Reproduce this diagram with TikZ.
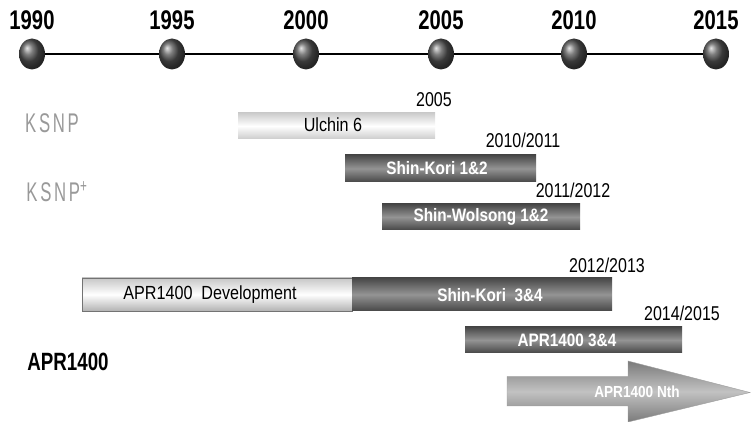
\documentclass[tikz,border=0pt]{standalone}
\usepackage{fontspec}
\setmainfont{Liberation Sans}
\newfontfamily\yearfont[FakeStretch=0.75]{Liberation Sans}
\newfontfamily\labfont[FakeStretch=0.8]{Liberation Sans}
\newfontfamily\barfont[FakeStretch=0.85]{Liberation Sans}
\newfontfamily\grpfont[FakeStretch=0.62,LetterSpace=10]{Liberation Sans}
\usetikzlibrary{shapes.geometric}
\tikzset{
  ballnode/.style={ellipse, minimum width=26pt, minimum height=31pt, inner sep=0pt, shading=ball, ball color=black!68},
  yearlab/.style={inner sep=0pt, font=\yearfont\bfseries\fontsize{27}{27}\selectfont},
  datelab/.style={inner sep=0pt, font=\labfont\fontsize{20}{20}\selectfont},
  grouplab/.style={inner sep=0pt, text=black!40, font=\grpfont\fontsize{27}{27}\selectfont},
  darkbar/.style={rectangle, inner sep=0pt, top color=black!72, bottom color=black!72, middle color=black!42},
  lightbar/.style={rectangle, inner sep=0pt, top color=black!20, bottom color=black!20, middle color=white},
  devbar/.style={rectangle, inner sep=0pt, draw=black!55, line width=0.6pt, top color=black!22, bottom color=black!30, middle color=white},
  whitetxt/.style={inner sep=0pt, text=white, font=\barfont\bfseries\fontsize{18}{18}\selectfont},
  blacktxt/.style={inner sep=0pt, text=black, font=\barfont\fontsize{19}{19}\selectfont},
  tline/.style={line width=2pt, black}
}
\begin{document}
\begin{tikzpicture}[x=1pt,y=-1pt]
\useasboundingbox (0,0) rectangle (756,422);

% timeline
\draw[tline] (32,54) -- (716,54);
\foreach \yr/\xx in {1990/32,1995/172,2000/306,2005/441,2010/574,2015/716}{
  \node[ballnode] (b\yr) at (\xx,54) {};
  \node[yearlab] (t\yr) at (\xx,20) {\yr};
}

% group labels
\node[grouplab] (ksnp) at (52,123) {KSNP};
\node[grouplab] (ksnpp) at (57,192) {KSNP\textsuperscript{+}};
\node[inner sep=0pt, font=\yearfont\bfseries\fontsize{25}{25}\selectfont] (apr) at (68,362) {APR1400};

% bars
\node[lightbar, minimum width=197pt, minimum height=26pt] (ulchin) at (336.5,126) {};
\node[blacktxt] (ulchintxt) at (333,125) {Ulchin 6};
\node[datelab] (d2005) at (434,100) {2005};

\node[darkbar, minimum width=191pt, minimum height=27pt] (sk12) at (440.5,168.5) {};
\node[whitetxt] (sk12txt) at (437,168) {Shin-Kori 1\&2};
\node[datelab] (d2010) at (523,140) {2010/2011};

\node[darkbar, minimum width=198pt, minimum height=26pt] (sw12) at (481,217) {};
\node[whitetxt] (sw12txt) at (481,217) {Shin-Wolsong 1\&2};
\node[datelab] (d2011) at (573,190) {2011/2012};

\node[devbar, minimum width=270pt, minimum height=33pt] (dev) at (217,294.5) {};
\node[blacktxt] (devtxt) at (210,295) {APR1400\ \ Development};
\node[darkbar, minimum width=260pt, minimum height=33pt] (sk34) at (482,294.5) {};
\node[whitetxt] (sk34txt) at (490,295) {Shin-Kori\ \ 3\&4};
\node[datelab] (d2012) at (607,265) {2012/2013};

\node[darkbar, minimum width=217pt, minimum height=26pt] (apr34) at (573.5,340) {};
\node[whitetxt] (apr34txt) at (567,340) {APR1400 3\&4};
\node[datelab] (d2014) at (682,313) {2014/2015};

% Nth arrow
\shade[top color=black!52, bottom color=black!52, middle color=black!24, draw=black!38, line width=0.4pt]
  (507,376.5) -- (628,376.5) -- (628,361) -- (750,392.5) -- (628,422) -- (628,406) -- (507,406) -- cycle;
\node[whitetxt, font=\barfont\bfseries\fontsize{16}{16}\selectfont] (nth) at (637,392) {APR1400 Nth};
\end{tikzpicture}
\end{document}
